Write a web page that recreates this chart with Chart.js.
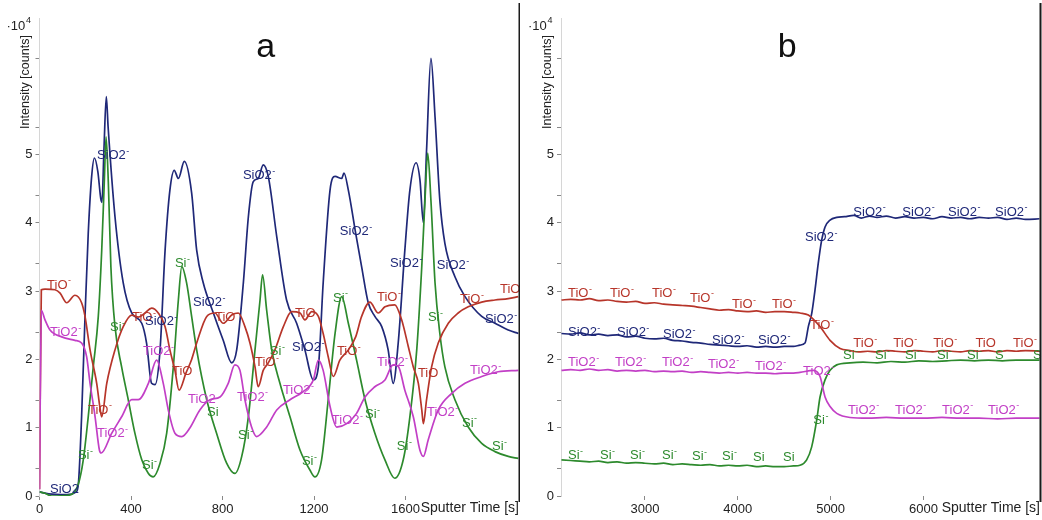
<!DOCTYPE html>
<html>
<head>
<meta charset="utf-8">
<script src="https://cdn.jsdelivr.net/npm/chart.js@4.4.1/dist/chart.umd.min.js"></script>
<style>
  html, body { margin: 0; padding: 0; background: #fff; }
  #wrap { position: relative; width: 1042px; height: 520px; overflow: hidden; }
  canvas { position: absolute; top: 0; }
  #panelA { left: 0; }
  #panelB { left: 520px; }
</style>
</head>
<body>
<div id="wrap">
  <canvas id="panelA" width="520" height="520"></canvas>
  <canvas id="panelB" width="522" height="520"></canvas>
</div>
<script>
// ---- Panel a: multilayer depth profile, [sputter time s, intensity x1e4 counts] ----
const aSiO2 = [[0,0.06],[40,0.03],[120,0.02],[160,0.06],[170,0.18],[184,1.16],[199,2.63],[213,3.84],[228,4.68],[240,4.95],[255,4.75],[268,4.35],[273,4.30],[282,5.10],[292,5.85],[300,5.40],[330,4.09],[366,3.12],[403,2.68],[447,2.53],[468,2.24],[490,1.65],[505,1.63],[527,2.14],[549,3.60],[570,4.48],[589,4.77],[607,4.65],[633,4.90],[665,4.44],[687,3.60],[716,3.12],[760,2.68],[803,2.28],[840,1.95],[862,2.14],[891,3.12],[913,4.09],[934,4.60],[956,4.65],[978,4.85],[1000,4.68],[1037,3.80],[1080,2.87],[1124,2.53],[1160,2.14],[1197,1.70],[1219,1.89],[1240,3.12],[1270,4.48],[1292,4.68],[1321,4.65],[1331,4.73],[1350,4.48],[1382,3.85],[1408,3.36],[1437,2.83],[1466,2.63],[1496,2.48],[1524,2.14],[1546,1.65],[1568,2.24],[1597,3.60],[1619,4.48],[1646,4.88],[1663,4.63],[1678,4.00],[1692,5.07],[1711,6.41],[1729,5.55],[1750,4.33],[1772,3.70],[1816,3.21],[1860,2.92],[1933,2.63],[1991,2.53],[2049,2.43],[2093,2.38]];
const aTiO = [[0,0.10],[8,3.02],[24,3.03],[68,3.02],[90,2.97],[119,2.83],[155,2.94],[184,2.83],[199,2.63],[221,2.14],[250,1.65],[264,1.30],[272,1.16],[294,1.65],[330,2.14],[366,2.48],[403,2.65],[432,2.62],[461,2.68],[490,2.75],[519,2.68],[549,2.48],[570,2.14],[592,1.84],[610,1.55],[640,1.80],[665,2.00],[687,2.24],[731,2.63],[767,2.68],[803,2.53],[840,2.65],[869,2.68],[898,2.48],[920,2.24],[942,1.89],[956,1.60],[978,1.84],[1000,1.95],[1029,2.14],[1066,2.48],[1102,2.70],[1139,2.68],[1160,2.58],[1190,2.70],[1219,2.63],[1240,2.38],[1262,2.04],[1284,1.75],[1313,1.99],[1350,2.14],[1382,2.33],[1408,2.63],[1444,2.84],[1481,2.68],[1510,2.77],[1553,2.80],[1583,2.58],[1612,2.19],[1634,1.89],[1656,1.65],[1671,1.26],[1678,1.06],[1692,1.41],[1714,1.89],[1743,2.24],[1787,2.53],[1830,2.68],[1874,2.77],[1933,2.84],[1991,2.87],[2049,2.89],[2093,2.92]];
const aTiO2 = [[0,0.10],[8,2.72],[24,2.58],[46,2.43],[97,2.33],[155,2.28],[184,2.24],[206,2.04],[221,1.65],[243,1.16],[262,0.67],[270,0.63],[316,0.92],[359,1.16],[403,1.41],[432,1.41],[476,1.65],[512,1.99],[541,1.65],[563,1.26],[592,0.92],[622,0.87],[658,1.00],[701,1.26],[745,1.41],[789,1.45],[825,1.65],[854,1.92],[876,1.84],[898,1.41],[927,1.01],[949,0.87],[993,1.01],[1037,1.26],[1095,1.41],[1153,1.53],[1197,1.70],[1219,1.99],[1240,1.84],[1270,1.31],[1299,1.01],[1343,1.06],[1386,1.21],[1423,1.45],[1466,1.60],[1510,1.70],[1546,1.92],[1568,1.90],[1597,1.55],[1634,1.16],[1663,0.67],[1678,0.58],[1699,0.82],[1743,1.26],[1801,1.50],[1860,1.65],[1933,1.75],[2005,1.82],[2093,1.84]];
const aSi = [[0,0.06],[24,0.04],[53,0.00],[126,0.01],[170,0.18],[191,0.52],[213,1.16],[235,1.89],[257,2.63],[272,3.60],[283,4.58],[291,5.26],[301,4.58],[312,3.36],[330,2.48],[359,1.89],[388,1.41],[417,0.92],[447,0.53],[476,0.33],[497,0.28],[527,0.48],[556,0.92],[585,1.89],[607,2.87],[622,3.36],[643,3.12],[665,2.63],[687,2.14],[731,1.41],[774,0.92],[818,0.48],[854,0.33],[884,0.58],[913,1.16],[942,2.14],[964,2.87],[975,3.24],[993,2.72],[1015,2.14],[1051,1.65],[1095,1.16],[1139,0.67],[1182,0.38],[1204,0.28],[1233,0.53],[1262,1.41],[1292,2.38],[1321,2.92],[1350,2.53],[1386,1.99],[1423,1.41],[1466,0.92],[1510,0.53],[1553,0.26],[1590,0.53],[1619,1.16],[1649,2.14],[1671,3.36],[1685,4.33],[1697,5.02],[1711,4.33],[1729,3.12],[1750,2.38],[1772,1.89],[1816,1.41],[1874,1.01],[1933,0.77],[1991,0.65],[2049,0.58],[2093,0.55]];

// species tags written along the curves of panel a: [time, intensity, text]
const aSiO2Tags = [[46,0.09,'SiO2'],[251,4.99,'SiO2-'],[461,2.55,'SiO2-'],[671,2.84,'SiO2-'],[889,4.70,'SiO2-'],[1104,2.17,'SiO2-'],[1313,3.87,'SiO2-'],[1532,3.41,'SiO2-'],[1737,3.38,'SiO2-'],[1947,2.59,'SiO2-']];
const aTiOTags = [[33,3.09,'TiO-'],[212,1.26,'TiO-'],[404,2.62,'TiO-'],[579,1.82,'TiO'],[767,2.62,'TiO-'],[942,1.95,'TiO-'],[1117,2.68,'TiO'],[1300,2.11,'TiO-'],[1475,2.91,'TiO-'],[1654,1.80,'TiO'],[1838,2.88,'TiO-'],[2013,3.02,'TiO']];
const aTiO2Tags = [[46,2.39,'TiO2-'],[251,0.92,'TiO2-'],[452,2.11,'TiO2-'],[649,1.41,'TiO2'],[863,1.45,'TiO2-'],[1064,1.55,'TiO2-'],[1278,1.11,'TiO2-'],[1475,1.95,'TiO2-'],[1694,1.22,'TiO2-'],[1882,1.84,'TiO2-']];
const aSiTags = [[168,0.60,'Si-'],[308,2.47,'Si-'],[448,0.45,'Si-'],[592,3.41,'Si-'],[732,1.22,'Si'],[868,0.89,'Si-'],[1007,2.11,'Si-'],[1147,0.50,'Si-'],[1283,2.90,'Si-'],[1423,1.19,'Si-'],[1562,0.72,'Si-'],[1698,2.62,'Si-'],[1847,1.07,'Si-'],[1978,0.72,'Si-']];

// ---- Panel b: single interface profile ----
const bSiO2 = [[2100,2.38],[2200,2.37],[2300,2.39],[2400,2.36],[2500,2.37],[2600,2.35],[2700,2.36],[2800,2.33],[2900,2.34],[3000,2.31],[3100,2.30],[3200,2.31],[3300,2.28],[3400,2.27],[3500,2.25],[3600,2.24],[3700,2.22],[3800,2.21],[3900,2.20],[4000,2.19],[4100,2.20],[4200,2.18],[4300,2.19],[4400,2.18],[4500,2.19],[4600,2.19],[4670,2.21],[4724,2.24],[4760,2.48],[4796,2.67],[4832,3.02],[4867,3.41],[4904,3.75],[4940,3.94],[4994,4.04],[5066,4.08],[5150,4.09],[5250,4.11],[5330,4.07],[5420,4.10],[5500,4.08],[5600,4.10],[5700,4.07],[5800,4.09],[5900,4.07],[6000,4.08],[6100,4.06],[6200,4.09],[6300,4.07],[6400,4.08],[6500,4.06],[6600,4.08],[6700,4.07],[6800,4.08],[6900,4.05],[7000,4.07],[7100,4.05],[7250,4.06]];
const bTiO = [[2100,2.87],[2200,2.88],[2300,2.87],[2400,2.89],[2500,2.86],[2600,2.87],[2700,2.85],[2800,2.84],[2900,2.85],[3000,2.82],[3100,2.83],[3200,2.81],[3300,2.80],[3400,2.79],[3500,2.78],[3600,2.76],[3700,2.74],[3800,2.72],[3900,2.73],[4000,2.71],[4100,2.70],[4200,2.71],[4300,2.69],[4400,2.70],[4500,2.70],[4600,2.69],[4670,2.68],[4760,2.65],[4886,2.48],[4994,2.28],[5102,2.16],[5209,2.13],[5300,2.11],[5400,2.12],[5500,2.11],[5600,2.13],[5700,2.12],[5800,2.11],[5900,2.13],[6000,2.12],[6100,2.11],[6200,2.13],[6300,2.12],[6400,2.11],[6500,2.13],[6600,2.12],[6700,2.13],[6800,2.11],[6900,2.13],[7000,2.12],[7100,2.13],[7250,2.12]];
const bTiO2 = [[2100,1.84],[2200,1.85],[2300,1.84],[2400,1.86],[2500,1.84],[2600,1.85],[2700,1.83],[2800,1.84],[2900,1.83],[3000,1.84],[3100,1.82],[3200,1.83],[3300,1.82],[3400,1.83],[3500,1.81],[3600,1.82],[3700,1.81],[3800,1.80],[3900,1.81],[4000,1.80],[4100,1.81],[4200,1.80],[4300,1.80],[4400,1.79],[4500,1.80],[4600,1.80],[4670,1.81],[4814,1.84],[4886,1.75],[4940,1.45],[4994,1.31],[5066,1.21],[5209,1.15],[5400,1.14],[5600,1.15],[5800,1.14],[6000,1.14],[6200,1.15],[6400,1.14],[6600,1.14],[6800,1.13],[7000,1.14],[7250,1.14]];
const bSi = [[2100,0.53],[2200,0.52],[2300,0.51],[2400,0.50],[2500,0.51],[2600,0.49],[2700,0.50],[2800,0.48],[2900,0.49],[3000,0.48],[3100,0.47],[3200,0.48],[3300,0.46],[3400,0.47],[3500,0.46],[3600,0.45],[3700,0.46],[3800,0.44],[3900,0.45],[4000,0.44],[4100,0.45],[4200,0.43],[4300,0.44],[4400,0.43],[4500,0.43],[4600,0.44],[4670,0.45],[4742,0.53],[4796,0.72],[4850,1.11],[4886,1.45],[4940,1.70],[4994,1.84],[5066,1.92],[5209,1.95],[5350,1.96],[5500,1.95],[5650,1.97],[5800,1.96],[5950,1.98],[6100,1.97],[6250,1.98],[6400,1.99],[6550,1.98],[6700,1.99],[6850,1.98],[7000,1.99],[7250,1.99]];

const bSiO2Tags = [[2170,2.39,'SiO2-'],[2698,2.39,'SiO2-'],[3194,2.36,'SiO2-'],[3722,2.28,'SiO2-'],[4218,2.28,'SiO2-'],[4724,3.78,'SiO2-'],[5245,4.16,'SiO2-'],[5773,4.16,'SiO2-'],[6265,4.16,'SiO2-'],[6772,4.16,'SiO2-']];
const bTiOTags = [[2170,2.97,'TiO-'],[2623,2.97,'TiO-'],[3075,2.97,'TiO-'],[3485,2.90,'TiO-'],[3938,2.81,'TiO-'],[4369,2.81,'TiO-'],[4778,2.50,'TiO-'],[5245,2.24,'TiO-'],[5676,2.24,'TiO-'],[6107,2.24,'TiO-'],[6560,2.24,'TiO'],[6966,2.24,'TiO-']];
const bTiO2Tags = [[2170,1.95,'TiO2-'],[2677,1.95,'TiO2-'],[3183,1.95,'TiO2-'],[3679,1.93,'TiO2-'],[4185,1.90,'TiO2-'],[4703,1.82,'TiO2-'],[5188,1.26,'TiO2-'],[5694,1.26,'TiO2-'],[6201,1.26,'TiO2-'],[6697,1.26,'TiO2-']];
const bSiTags = [[2170,0.60,'Si-'],[2515,0.60,'Si-'],[2838,0.60,'Si-'],[3183,0.60,'Si-'],[3506,0.58,'Si-'],[3830,0.58,'Si-'],[4164,0.56,'Si'],[4487,0.56,'Si'],[4814,1.11,'Si-'],[5134,2.06,'Si-'],[5478,2.06,'Si-'],[5802,2.06,'Si-'],[6146,2.06,'Si-'],[6470,2.06,'Si-'],[6772,2.06,'S'],[7181,2.06,'Si']];

// axis ticks
const yTicks = [0, 0.4, 1, 1.4, 2, 2.4, 3, 3.4, 4, 4.4, 5, 5.4, 6.4];
const yLabelled = [0, 1, 2, 3, 4, 5];
const aXTicks = [0, 400, 800, 1200, 1600];
const bXTicks = [3000, 4000, 5000, 6000];

const COLORS = { SiO2: '#1f2878', TiO: '#b7352a', TiO2: '#c23fc6', Si: '#2d8a2d' };
const FONT = '"Liberation Sans", Arial, Helvetica, sans-serif';

function drawTag(ctx, txt, x, y) {
  ctx.font = '13px ' + FONT;
  ctx.textAlign = 'left';
  ctx.textBaseline = 'middle';
  if (txt.endsWith('-')) {
    const base = txt.slice(0, -1);
    ctx.fillText(base, x, y);
    const w = ctx.measureText(base).width;
    ctx.font = '9px ' + FONT;
    ctx.fillText('-', x + w + 0.5, y - 4);
  } else {
    ctx.fillText(txt, x, y);
  }
}

const decor = {
  id: 'decor',
  afterDatasetsDraw(chart, args, opts) {
    const { ctx, chartArea: ca, scales: { x, y } } = chart;
    ctx.save();
    chart.data.datasets.forEach(ds => {
      ctx.fillStyle = ds.borderColor;
      (ds.tags || []).forEach(([t, v, txt]) => {
        drawTag(ctx, txt, x.getPixelForValue(t), y.getPixelForValue(v));
      });
    });
    // panel letter
    ctx.fillStyle = '#111';
    ctx.font = '34px ' + FONT;
    ctx.textAlign = 'center';
    ctx.textBaseline = 'alphabetic';
    ctx.fillText(opts.letter, ca.left + (ca.right - ca.left) * 0.472, 57);
    // x axis title, on the tick label row
    ctx.fillStyle = '#222';
    ctx.font = '14px ' + FONT;
    ctx.textAlign = 'right';
    ctx.textBaseline = 'middle';
    ctx.fillText('Sputter Time [s]', ca.right, ca.bottom + 12.5);
    // y axis title
    ctx.save();
    ctx.translate(ca.left - 13.5, 82);
    ctx.rotate(-Math.PI / 2);
    ctx.textAlign = 'center';
    ctx.font = '12.5px ' + FONT;
    ctx.fillText('Intensity [counts]', 0, 0);
    ctx.restore();
    // exponent marker
    ctx.textAlign = 'left';
    ctx.textBaseline = 'alphabetic';
    ctx.font = '13px ' + FONT;
    ctx.fillText('\u00B710', ca.left - 33, 30);
    ctx.font = '9px ' + FONT;
    ctx.fillText('4', ca.left - 13.5, 23);
    // frame line on the right side of the panel
    ctx.fillStyle = '#1b1b1b';
    ctx.fillRect(ca.right - 0.5, 3, 2, ca.bottom + 3);
    ctx.restore();
  }
};

function makePanel(canvasId, letter, xMin, xMax, xTicks, padRight, series) {
  return new Chart(document.getElementById(canvasId), {
    type: 'line',
    data: {
      datasets: series.map(s => ({
        label: s.name,
        data: s.points.map(([t, v]) => ({ x: t, y: v })),
        borderColor: COLORS[s.name],
        borderWidth: 1.7,
        pointRadius: 0,
        fill: false,
        cubicInterpolationMode: 'monotone',
        tags: s.tags
      }))
    },
    options: {
      responsive: false,
      animation: false,
      devicePixelRatio: 1,
      layout: { padding: { top: 18, right: padRight, left: 0, bottom: 0 } },
      plugins: { legend: { display: false }, tooltip: { enabled: false }, decor: { letter } },
      scales: {
        x: {
          type: 'linear', min: xMin, max: xMax,
          afterBuildTicks: sc => { sc.ticks = xTicks.map(v => ({ value: v })); },
          afterFit: sc => { sc.height = 24; },
          grid: { drawOnChartArea: false, tickLength: 4, color: '#888' },
          border: { display: false },
          ticks: { autoSkip: false, maxRotation: 0, padding: 2, color: '#222',
                   font: { family: FONT, size: 13 }, callback: v => String(v) }
        },
        y: {
          min: 0, max: 7,
          afterBuildTicks: sc => { sc.ticks = yTicks.map(v => ({ value: v })); },
          afterFit: sc => { sc.width = canvasId === 'panelA' ? 39.5 : 41; },
          grid: { drawOnChartArea: false, tickLength: 4, color: '#888' },
          border: { display: true, color: '#d6d6d6' },
          ticks: { autoSkip: false, padding: 3, color: '#222',
                   font: { family: FONT, size: 13 },
                   callback: v => (yLabelled.includes(v) ? String(v) : '') }
        }
      }
    },
    plugins: [decor]
  });
}

makePanel('panelA', 'a', 0, 2096, aXTicks, 1, [
  { name: 'TiO2', points: aTiO2, tags: aTiO2Tags },
  { name: 'TiO', points: aTiO, tags: aTiOTags },
  { name: 'Si', points: aSi, tags: aSiTags },
  { name: 'SiO2', points: aSiO2, tags: aSiO2Tags }
]);

makePanel('panelB', 'b', 2095, 7256, bXTicks, 2, [
  { name: 'TiO2', points: bTiO2, tags: bTiO2Tags },
  { name: 'TiO', points: bTiO, tags: bTiOTags },
  { name: 'Si', points: bSi, tags: bSiTags },
  { name: 'SiO2', points: bSiO2, tags: bSiO2Tags }
]);
</script>
</body>
</html>
